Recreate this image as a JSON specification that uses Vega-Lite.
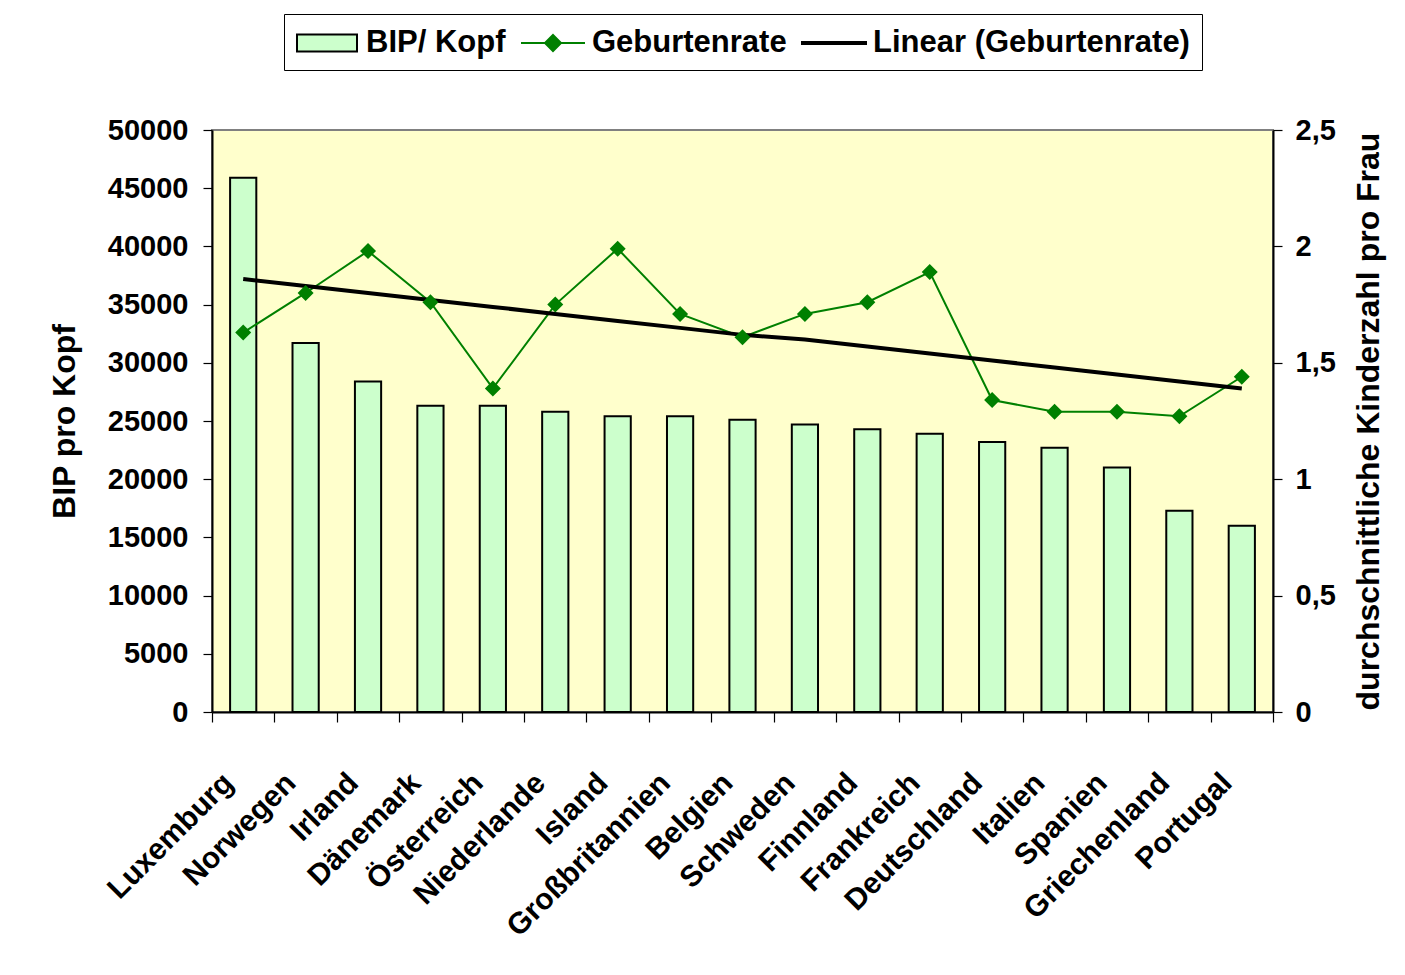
{
  "$schema": "https://vega.github.io/schema/vega-lite/v6.json",
  "width": 1061,
  "height": 582,
  "autosize": {"type": "none"},
  "padding": {"left": 212, "top": 130, "right": 132, "bottom": 263},
  "background": "white",
  "config": {
    "font": "Liberation Sans",
    "view": {"fill": "#FFFFCC", "stroke": "#808080", "strokeWidth": 2},
    "axis": {
      "labelFont": "Liberation Sans",
      "labelFontWeight": "bold",
      "labelFontSize": 29,
      "labelColor": "black",
      "titleFont": "Liberation Sans",
      "titleFontWeight": "bold",
      "titleFontSize": 32,
      "titleColor": "black",
      "domainColor": "black",
      "domainWidth": 2,
      "tickColor": "black",
      "tickWidth": 1.2,
      "grid": false,
      "labelLimit": 0
    },
    "legend": {
      "orient": "none",
      "legendX": 72,
      "legendY": -116,
      "direction": "horizontal",
      "strokeColor": "black",
      "padding": 12,
      "symbolSize": 1024,
      "symbolOffset": 14,
      "labelOffset": 22,
      "columnPadding": 11,
      "labelFont": "Liberation Sans",
      "labelFontSize": 31,
      "labelFontWeight": "bold",
      "labelColor": "black",
      "labelLimit": 0,
      "symbolStrokeWidth": 2,
      "symbolOpacity": 1
    }
  },
  "data": {
    "values": [
      {"Land": "Luxemburg", "BIP": 45900, "Geburtenrate": 1.63, "Trend": 1.86},
      {"Land": "Norwegen", "BIP": 31700, "Geburtenrate": 1.80, "Trend": 1.83},
      {"Land": "Irland", "BIP": 28400, "Geburtenrate": 1.98, "Trend": 1.80},
      {"Land": "Dänemark", "BIP": 26300, "Geburtenrate": 1.76, "Trend": 1.77},
      {"Land": "Österreich", "BIP": 26300, "Geburtenrate": 1.39, "Trend": 1.74},
      {"Land": "Niederlande", "BIP": 25800, "Geburtenrate": 1.75, "Trend": 1.71},
      {"Land": "Island", "BIP": 25400, "Geburtenrate": 1.99, "Trend": 1.68},
      {"Land": "Großbritannien", "BIP": 25400, "Geburtenrate": 1.71, "Trend": 1.65},
      {"Land": "Belgien", "BIP": 25100, "Geburtenrate": 1.61, "Trend": 1.62},
      {"Land": "Schweden", "BIP": 24700, "Geburtenrate": 1.71, "Trend": 1.60},
      {"Land": "Finnland", "BIP": 24300, "Geburtenrate": 1.76, "Trend": 1.57},
      {"Land": "Frankreich", "BIP": 23900, "Geburtenrate": 1.89, "Trend": 1.54},
      {"Land": "Deutschland", "BIP": 23200, "Geburtenrate": 1.34, "Trend": 1.51},
      {"Land": "Italien", "BIP": 22700, "Geburtenrate": 1.29, "Trend": 1.48},
      {"Land": "Spanien", "BIP": 21000, "Geburtenrate": 1.29, "Trend": 1.45},
      {"Land": "Griechenland", "BIP": 17300, "Geburtenrate": 1.27, "Trend": 1.42},
      {"Land": "Portugal", "BIP": 16000, "Geburtenrate": 1.44, "Trend": 1.39}
    ]
  },
  "encoding": {
    "x": {
      "field": "Land",
      "type": "nominal",
      "sort": null,
      "scale": {"paddingInner": 0, "paddingOuter": 0},
      "axis": {
        "title": null,
        "labelAngle": -45,
        "labelAlign": "right",
        "labelBaseline": "middle",
        "labelFontSize": 30,
        "tickBand": "extent",
        "tickSize": 10,
        "labelPadding": 56,
        "labelOffset": -15
      }
    }
  },
  "layer": [
    {
      "mark": {"type": "bar", "strokeWidth": 2, "width": {"band": 0.42}},
      "encoding": {
        "y": {
          "field": "BIP",
          "type": "quantitative",
          "scale": {"domain": [0, 50000]},
          "axis": {
            "title": "BIP pro Kopf",
            "values": [0, 5000, 10000, 15000, 20000, 25000, 30000, 35000, 40000, 45000, 50000],
            "format": "d",
            "tickSize": 9,
            "labelPadding": 15,
            "titlePadding": 26
          }
        },
        "fill": {
          "datum": "BIP/ Kopf",
          "type": "nominal",
          "scale": {
            "domain": ["BIP/ Kopf", "Geburtenrate", "Linear (Geburtenrate)"],
            "range": ["#CCFFCC", "#008000", "#000000"]
          },
          "legend": {"title": null}
        },
        "stroke": {
          "datum": "BIP/ Kopf",
          "type": "nominal",
          "scale": {
            "domain": ["BIP/ Kopf", "Geburtenrate", "Linear (Geburtenrate)"],
            "range": ["#000000", "#008000", "#000000"]
          },
          "legend": {"title": null}
        }
      }
    },
    {
      "encoding": {
        "y": {
          "type": "quantitative",
          "scale": {"domain": [0, 2.5]},
          "axis": {
            "orient": "right",
            "title": "durchschnittliche Kinderzahl pro Frau",
            "titleAngle": 270,
            "titleBaseline": "top",
            "values": [0, 0.5, 1, 1.5, 2, 2.5],
            "labelExpr": "replace(toString(datum.value), '.', ',')",
            "tickSize": 9,
            "labelPadding": 13,
            "titlePadding": 18
          }
        }
      },
      "layer": [
        {
          "mark": {"type": "line", "strokeWidth": 2},
          "encoding": {
            "y": {"field": "Geburtenrate", "type": "quantitative"},
            "stroke": {"datum": "Geburtenrate", "type": "nominal", "legend": {"title": null}}
          }
        },
        {
          "mark": {"type": "line", "strokeWidth": 4},
          "encoding": {
            "y": {"field": "Trend", "type": "quantitative"},
            "stroke": {"datum": "Linear (Geburtenrate)", "type": "nominal", "legend": {"title": null}}
          }
        },
        {
          "mark": {"type": "point", "filled": true, "size": 1024, "strokeWidth": 0, "opacity": 1},
          "encoding": {
            "y": {"field": "Geburtenrate", "type": "quantitative"},
            "fill": {"datum": "Geburtenrate", "type": "nominal", "legend": {"title": null}},
            "shape": {
              "datum": "Geburtenrate",
              "type": "nominal",
              "scale": {
                "domain": ["BIP/ Kopf", "Geburtenrate", "Linear (Geburtenrate)"],
                "range": ["M-1.875,-0.53H1.875V0.53H-1.875Z", "M-2,0H2M0,-0.5L0.5,0L0,0.5L-0.5,0Z", "M-2,-0.07H2V0.07H-2Z"]
              },
              "legend": {"title": null}
            }
          }
        }
      ]
    }
  ],
  "resolve": {"scale": {"y": "independent"}}
}
